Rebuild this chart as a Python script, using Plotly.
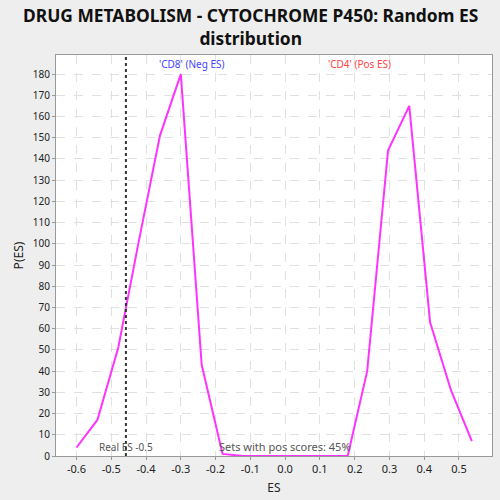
import plotly.graph_objects as go

es_x = [-0.6, -0.54, -0.48, -0.42, -0.36, -0.30, -0.24, -0.18, -0.12, -0.06,
        0.0, 0.06, 0.12, 0.18, 0.236, 0.296, 0.357, 0.417, 0.477, 0.537]
p_es = [4, 17, 51, 102, 151, 180, 43, 1, 0, 0,
        0, 0, 0, 0, 40, 144, 165, 63, 31, 7]
real_es = -0.458
x_ticks = [-0.6, -0.5, -0.4, -0.3, -0.2, -0.1, 0.0, 0.1, 0.2, 0.3, 0.4, 0.5]
y_ticks = list(range(0, 190, 10))
title_text = "DRUG METABOLISM - CYTOCHROME P450: Random ES<br>distribution"

fig = go.Figure()
fig.add_trace(go.Scatter(x=es_x, y=p_es, mode="lines",
                         line=dict(color="#ff33ff", width=2), showlegend=False))
fig.add_shape(type="line", x0=real_es, x1=real_es, y0=0, y1=1, yref="paper",
              line=dict(color="#333333", width=2, dash="dot"))

fig.add_annotation(x=real_es, y=0, yref="y", text="Real ES -0.5", showarrow=False,
                   xanchor="center", yanchor="bottom", font=dict(size=10, color="#555555"))
fig.add_annotation(x=0.0, y=0, yref="y", text="Sets with pos scores: 45%", showarrow=False,
                   xanchor="center", yanchor="bottom", font=dict(size=11, color="#555555"))
fig.add_annotation(x=-0.27, y=1, yref="paper", text="'CD8' (Neg ES)", showarrow=False,
                   xanchor="center", yanchor="top", font=dict(size=10, color="#4444ff"))
fig.add_annotation(x=0.215, y=1, yref="paper", text="'CD4' (Pos ES)", showarrow=False,
                   xanchor="center", yanchor="top", font=dict(size=10, color="#ff4444"))
fig.add_annotation(x=0.445, y=1.072, xref="paper", yref="paper", text=title_text,
                   showarrow=False, xanchor="center", yanchor="middle",
                   font=dict(size=17.4, family="Noto Sans", weight="bold", color="#111111"))

fig.update_layout(
    width=500, height=500,
    margin=dict(l=56, r=8, t=55, b=44),
    paper_bgcolor="#eeeeee", plot_bgcolor="white",
    font=dict(family="Noto Sans", color="#222222"),
)
fig.update_xaxes(range=[-0.659, 0.595], tickvals=x_ticks,
                 ticktext=[f"{v:.1f}" for v in x_ticks],
                 title=dict(text="ES", font=dict(size=12), standoff=8),
                 showgrid=True, gridcolor="#e0e0e0", griddash="dash",
                 zeroline=False, showline=True, linecolor="#999999", mirror=True,
                 ticks="outside", ticklen=3, tickcolor="#999999", tickfont=dict(size=11))
fig.update_yaxes(range=[0, 189], tickvals=y_ticks,
                 title=dict(text="P(ES)", font=dict(size=12), standoff=6),
                 showgrid=True, gridcolor="#e0e0e0", griddash="dash",
                 zeroline=False, showline=True, linecolor="#999999", mirror=True,
                 ticks="outside", ticklen=3, tickcolor="#999999", tickfont=dict(size=10))

fig.write_html("out.html")
